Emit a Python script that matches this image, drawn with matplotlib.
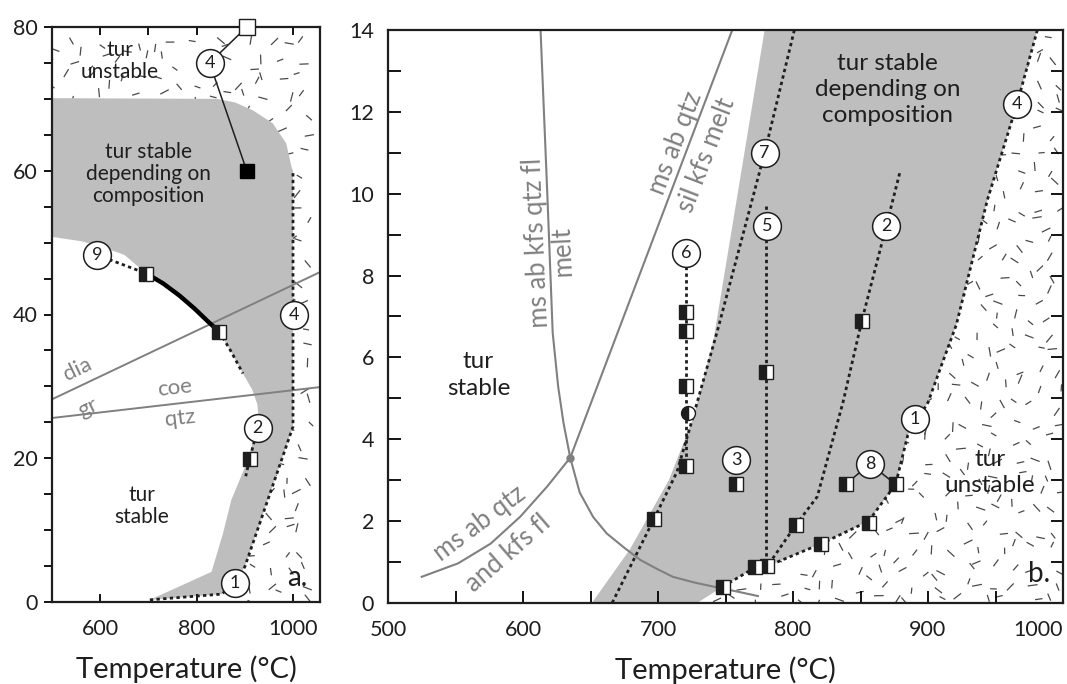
import numpy as np
import matplotlib.pyplot as plt
from matplotlib.patches import Polygon
from matplotlib.collections import LineCollection
from matplotlib.ticker import MultipleLocator

plt.rcParams['font.family'] = ['Lato', 'DejaVu Sans']

GRAY_FILL = '#bebebe'
GRAY_LINE = '#808080'
INK = '#1e1e1e'

# ---------------- panel a (left) ----------------
# edge of the "tur stable" (white) field
a_white_T = [500, 560, 600, 650, 696, 731, 765, 796, 824, 847, 872, 896, 915, 926, 928, 922, 908, 872, 855, 831, 703]
a_white_P = [50.8, 50.2, 49.5, 48.3, 45.7, 44.3, 42.6, 40.8, 39.0, 37.6, 34.8, 31.8, 29.6, 27.5, 26.0, 23.8, 20.0, 14.2, 9.6, 4.2, 0.3]
# upper edge of the grey field
a_top_T = [500, 842, 880, 917, 958, 986, 997, 1000]
a_top_P = [70.1, 70.0, 69.5, 68.4, 66.6, 63.8, 60.5, 60.0]
# reaction 1 / 4 (dotted)
a_r1_T = [703, 852, 879, 900, 1000, 1000]
a_r1_P = [0.3, 1.1, 2.6, 4.9, 24.4, 60.0]
# reaction 2 (dotted)
a_r2_T = [927, 910, 902]
a_r2_P = [24.2, 19.9, 17.5]
# reaction 9
a_r9_dot1_T = [593, 696]
a_r9_dot1_P = [48.3, 45.7]
a_r9_solid_T = [696, 731, 765, 796, 824, 847]
a_r9_solid_P = [45.7, 44.3, 42.6, 40.8, 39.0, 37.6]
a_r9_dot2_T = [847, 872, 896]
a_r9_dot2_P = [37.6, 34.8, 31.8]
# reaction 4 high-P (solid thin)
a_r4_T = [904, 827, 904]
a_r4_P = [80, 75, 60]
# dia/gr and coe/qtz
a_dia_T = [500, 1056]
a_dia_P = [28.2, 45.9]
a_coe_T = [500, 1056]
a_coe_P = [25.6, 29.9]
# experiment squares (half filled)
a_sq_T = [696, 847, 910]
a_sq_P = [45.7, 37.6, 19.9]
# numbered circles
a_lab = ['4', '9', '4', '2', '1']
a_lab_T = [827, 593, 1002, 927, 879]
a_lab_P = [75, 48.3, 40, 24.2, 2.6]

# ---------------- panel b (right) ----------------
b_grey_T = [651, 679, 708, 726, 741, 779]
b_grey_P = [0.0, 1.3, 3.0, 4.5, 6.4, 14.0]
# reaction 4 / 1 boundary (dotted) from top down to the low-P squares
b_r1_T = [981, 966, 944, 921, 911, 900, 885, 876, 856, 821, 781, 772, 748]
b_r1_P = [14.0, 12.2, 9.85, 6.8, 5.9, 4.9, 4.1, 2.9, 2.0, 1.45, 0.9, 0.87, 0.4]
b_r2_T = [879, 869, 851, 837, 818, 802, 781]
b_r2_P = [10.5, 9.2, 6.9, 4.9, 2.6, 1.9, 0.9]
b_r5_T = [780, 780]
b_r5_P = [9.7, 0.9]
b_r6_T = [721, 721]
b_r6_P = [8.55, 3.35]
b_r7_T = [801, 779, 744, 726, 714, 697, 666]
b_r7_P = [14.0, 11.0, 6.65, 4.55, 3.2, 2.05, 0.0]
# melting curves
b_A_T = [613, 618, 622, 626, 630, 635, 642, 652, 662, 675, 687, 700, 711, 727, 744, 760, 774]
b_A_P = [14.0, 10.0, 6.6, 5.3, 4.4, 3.55, 2.7, 2.1, 1.7, 1.35, 1.05, 0.82, 0.64, 0.5, 0.38, 0.27, 0.17]
b_B_T = [635, 755]
b_B_P = [3.55, 14.0]
b_C_T = [525, 552, 576, 598, 618, 635]
b_C_P = [0.64, 0.97, 1.45, 2.11, 2.85, 3.55]
b_sq_T = [721, 721, 721, 721, 697, 780, 851, 802, 758, 839, 876, 856, 821, 781, 772, 748]
b_sq_P = [7.1, 6.65, 5.3, 3.35, 2.05, 5.65, 6.9, 1.9, 2.9, 2.9, 2.9, 1.95, 1.45, 0.9, 0.87, 0.4]
b_lab = ['6', '7', '5', '2', '4', '1', '3', '8']
b_lab_T = [721, 779, 781, 869, 966, 890, 758, 857]
b_lab_P = [8.55, 11.0, 9.2, 9.2, 12.2, 4.5, 3.5, 3.4]


def texture(ax, poly_xy, xlim, ylim, wpx, hpx, seed):
    # scattered short dashes, clipped to the "tur unstable" field
    rng = np.random.default_rng(seed)
    sx = wpx / (xlim[1] - xlim[0])
    sy = hpx / (ylim[1] - ylim[0])
    gx, gy = np.meshgrid(np.arange(0, wpx, 18.0), np.arange(0, hpx, 18.0))
    px = gx.ravel() + rng.uniform(-8, 8, gx.size)
    py = gy.ravel() + rng.uniform(-8, 8, gy.size)
    ang = rng.uniform(0, np.pi, px.size)
    half = rng.uniform(3, 5, px.size)
    x0 = xlim[0] + (px - half * np.cos(ang)) / sx
    x1 = xlim[0] + (px + half * np.cos(ang)) / sx
    y0 = ylim[0] + (py - half * np.sin(ang)) / sy
    y1 = ylim[0] + (py + half * np.sin(ang)) / sy
    segs = [[(a, b), (c, d)] for a, b, c, d in zip(x0, y0, x1, y1)]
    patch = Polygon(poly_xy, closed=True, fc='none', ec='none')
    ax.add_patch(patch)
    lc = LineCollection(segs, colors='#4a4a4a', linewidths=0.9, zorder=1)
    ax.add_collection(lc)
    lc.set_clip_path(patch)


def circles(ax, labels, T, P, fs=13):
    ax.plot(T, P, 'o', ms=20, mfc='white', mec=INK, mew=1.1, ls='none', zorder=6, clip_on=False)
    for s, t, p in zip(labels, T, P):
        ax.text(t, p, s, ha='center', va='center', fontsize=fs, color=INK, zorder=7)


def half_squares(ax, T, P, ms=10):
    ax.plot(T, P, 's', ms=ms, fillstyle='left', mfc=INK, mfcalt='white', mec=INK,
            mew=1.0, ls='none', zorder=5, clip_on=False)


fig = plt.figure(figsize=(10.67, 6.84), dpi=100)
axA = fig.add_axes([52 / 1067, 82 / 684, 268 / 1067, 575 / 684])
axB = fig.add_axes([388 / 1067, 81 / 684, 675 / 1067, 573 / 684])

# ---- panel a ----
xa, ya = (500, 1056), (0, 80)
grey_a = list(zip(a_top_T, a_top_P)) + [(1000, 24.4), (900, 4.9), (879, 2.6), (852, 1.1)] \
    + list(zip(a_white_T[::-1], a_white_P[::-1]))
axA.add_patch(Polygon(grey_a, closed=True, fc=GRAY_FILL, ec='none', zorder=0))
unst_a = [(500, 70.1), (500, 80), (1056, 80), (1056, 0), (905, 0), (900, 4.9), (1000, 24.4)] \
    + list(zip(a_top_T[::-1], a_top_P[::-1]))
texture(axA, unst_a, xa, ya, 268, 575, 3)

axA.plot(a_dia_T, a_dia_P, color=GRAY_LINE, lw=1.4, zorder=2)
axA.plot(a_coe_T, a_coe_P, color=GRAY_LINE, lw=1.4, zorder=2)
dot = dict(ls=(0, (1.2, 1.2)), color=INK, lw=2, zorder=3)
axA.plot(a_r1_T, a_r1_P, **dot)
axA.plot(a_r2_T, a_r2_P, **dot)
axA.plot(a_r9_dot1_T, a_r9_dot1_P, **dot)
axA.plot(a_r9_solid_T, a_r9_solid_P, color='black', lw=3.2, zorder=3, solid_capstyle='round')
axA.plot(a_r9_dot2_T, a_r9_dot2_P, **dot)
axA.plot(a_r4_T, a_r4_P, color=INK, lw=1.1, zorder=3, clip_on=False)
half_squares(axA, a_sq_T, a_sq_P)
axA.plot([904], [60], 's', ms=10, color='black', zorder=5)
axA.plot([904], [80], 's', ms=11, mfc='white', mec=INK, mew=1.0, zorder=8, clip_on=False)
circles(axA, a_lab, a_lab_T, a_lab_P)

txtA = dict(color=INK, ha='center', va='center', linespacing=1.12)
axA.text(640, 75.3, 'tur\nunstable', fontsize=15, **txtA)
axA.text(700, 59.5, 'tur stable\ndepending on\ncomposition', fontsize=15, **txtA)
axA.text(686, 13.3, 'tur\nstable', fontsize=15, **txtA)
axA.text(1008, 3.4, 'a.', fontsize=20, **txtA)
gt = dict(color=GRAY_LINE, ha='center', va='center', fontsize=16)
axA.text(552, 32.4, 'dia', rotation=25.6, **gt)
axA.text(574, 27.0, 'gr', rotation=25.6, **gt)
axA.text(755, 29.8, 'coe', rotation=6.6, **gt)
axA.text(765, 25.6, 'qtz', rotation=6.6, **gt)

axA.set_xlim(*xa)
axA.set_ylim(*ya)
axA.set_xticks([600, 800, 1000])
axA.xaxis.set_minor_locator(MultipleLocator(100))
axA.set_yticks([0, 20, 40, 60, 80])
axA.yaxis.set_minor_locator(MultipleLocator(5))
axA.tick_params(axis='x', which='both', direction='in', top=True, length=6, width=1.3, pad=12)
axA.tick_params(axis='x', which='minor', bottom=False)
axA.tick_params(axis='y', which='both', direction='out', length=6, width=1.3, pad=4)
axA.set_xlabel('Temperature (°C)', fontsize=21, color=INK, labelpad=12)

# ---- panel b ----
xb, yb = (500, 1000), (0, 14)
grey_b = list(zip(b_grey_T, b_grey_P)) + list(zip(b_r1_T, b_r1_P)) + [(729, 0)]
axB.add_patch(Polygon(grey_b, closed=True, fc=GRAY_FILL, ec='none', zorder=0))
unst_b = list(zip(b_r1_T, b_r1_P)) + [(729, 0), (1000, 0), (1000, 14)]
texture(axB, unst_b, xb, yb, 675, 573, 11)

axB.plot(b_A_T, b_A_P, color=GRAY_LINE, lw=1.5, zorder=2)
axB.plot(b_B_T, b_B_P, color=GRAY_LINE, lw=1.5, zorder=2)
axB.plot(b_C_T, b_C_P, color=GRAY_LINE, lw=1.5, zorder=2)
axB.plot([635], [3.55], 'o', ms=5, color=GRAY_LINE, zorder=2)

for T, P in [(b_r1_T, b_r1_P), (b_r2_T, b_r2_P), (b_r5_T, b_r5_P),
             (b_r6_T, b_r6_P), (b_r7_T, b_r7_P)]:
    axB.plot(T, P, **dot)
# circle 8 tie lines
axB.plot([839, 857, 876], [2.9, 3.4, 2.9], color=INK, lw=1.1, zorder=3)
half_squares(axB, b_sq_T, b_sq_P)
axB.plot([722.5], [4.65], 'o', ms=10, fillstyle='left', mfc=INK, mfcalt='white',
         mec=INK, mew=1.0, zorder=5)
circles(axB, b_lab, b_lab_T, b_lab_P)

txtB = dict(color=INK, ha='center', va='center', linespacing=1.3)
axB.text(567, 5.57, 'tur\nstable', fontsize=17.5, **txtB)
axB.text(870, 12.54, 'tur stable\ndepending on\ncomposition', fontsize=17.5, **txtB)
axB.text(946, 3.18, 'tur\nunstable', fontsize=17.5, **txtB)
axB.text(982, 0.7, 'b.', fontsize=20, **txtB)
gb = dict(color=GRAY_LINE, ha='center', va='center', fontsize=18.5)
axB.text(610.5, 8.8, 'ms ab kfs qtz fl', rotation=92.5, **gb)
axB.text(629, 8.6, 'melt', rotation=92.5, **gb)
axB.text(713, 11.25, 'ms ab qtz', rotation=69, **gb)
axB.text(736, 10.95, 'sil kfs melt', rotation=69, **gb)
axB.text(568, 1.95, 'ms ab qtz', rotation=37, **gb)
axB.text(589, 1.22, 'and kfs fl', rotation=41, **gb)

axB.set_xlim(*xb)
axB.set_ylim(*yb)
axB.set_xticks(range(500, 1001, 100))
axB.xaxis.set_minor_locator(MultipleLocator(50))
axB.set_yticks(range(0, 15, 2))
axB.yaxis.set_minor_locator(MultipleLocator(1))
axB.tick_params(axis='both', which='both', direction='in', length=9, width=1.3)
axB.tick_params(axis='y', which='both', right=True, pad=10)
axB.tick_params(axis='x', which='both', pad=12)
axB.set_xlabel('Temperature (°C)', fontsize=21, color=INK, labelpad=12)

for ax in (axA, axB):
    for sp in ax.spines.values():
        sp.set_linewidth(1.6)
        sp.set_color(INK)
    for lab in ax.get_xticklabels() + ax.get_yticklabels():
        lab.set_fontsize(15.5)
        lab.set_color(INK)
# last label of panel b sits flush with the right edge
axB.xaxis.get_major_ticks()[-1].label1.set_horizontalalignment('right')

fig.savefig('out.png', dpi=100)
